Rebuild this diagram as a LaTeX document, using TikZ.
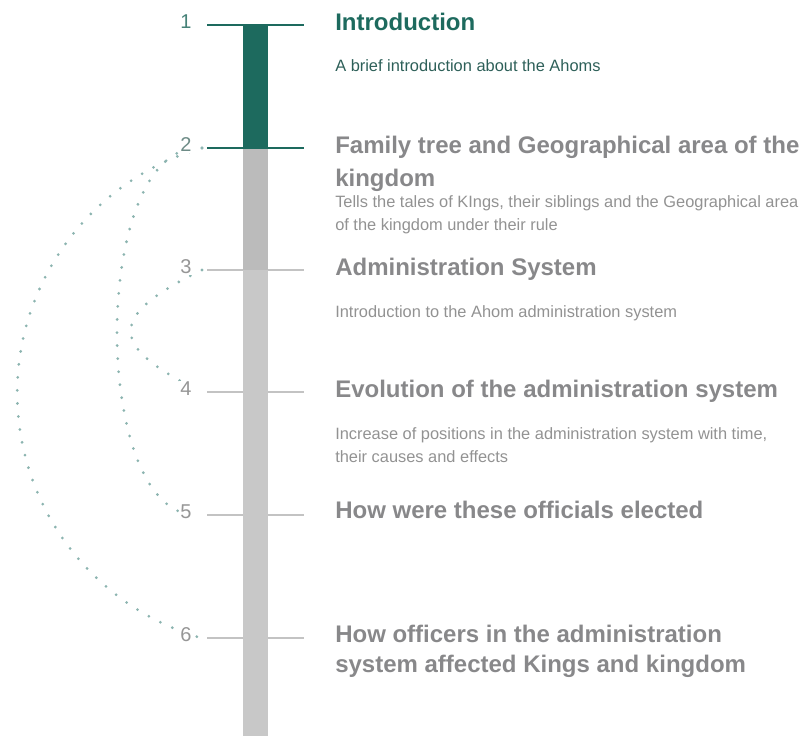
\documentclass[tikz,border=0pt]{standalone}
\usepackage{fontspec}
\setmainfont{Liberation Sans}
\definecolor{tealA}{RGB}{29,106,94}
\definecolor{tealD}{RGB}{45,95,88}
\definecolor{barA}{RGB}{187,187,187}
\definecolor{barB}{RGB}{200,200,200}
\definecolor{tickg}{RGB}{195,195,195}
\definecolor{headg}{RGB}{136,136,138}
\definecolor{descg}{RGB}{146,146,146}
\definecolor{dotc}{RGB}{140,180,176}
\definecolor{numA}{RGB}{70,130,120}
\definecolor{numB}{RGB}{110,140,135}
\definecolor{numg}{RGB}{150,150,150}
\begin{document}
\begin{tikzpicture}[x=0.75pt,y=-0.75pt,
  tickT/.style={draw=tealA,line width=1.5pt},
  tickG/.style={draw=tickg,line width=1pt},
  dotarc/.style={draw=dotc,line width=2.3pt,line cap=round,dash pattern=on 0pt off 9.8pt},
  numlbl/.style={fill=white,inner sep=1pt,font=\fontsize{15}{18}\selectfont},
  headT/.style={anchor=base west,inner sep=0pt,text=tealA,font=\fontsize{18}{22}\selectfont\bfseries},
  headG/.style={anchor=base west,inner sep=0pt,text=headg,font=\fontsize{18}{22}\selectfont\bfseries},
  descT/.style={anchor=base west,inner sep=0pt,text=tealD,font=\fontsize{12.3}{15}\selectfont},
  descG/.style={anchor=base west,inner sep=0pt,text=descg,font=\fontsize{12.3}{15}\selectfont}]
\useasboundingbox (0,0) rectangle (807,736);
% tick coordinates
\coordinate (t1l) at (207,25);  \coordinate (t1r) at (304,25);
\coordinate (t2l) at (207,148); \coordinate (t2r) at (304,148);
\coordinate (t3l) at (207,270); \coordinate (t3r) at (304,270);
\coordinate (t4l) at (207,392); \coordinate (t4r) at (304,392);
\coordinate (t5l) at (207,515); \coordinate (t5r) at (304,515);
\coordinate (t6l) at (207,638); \coordinate (t6r) at (304,638);
% grey ticks (behind bar)
\draw[tickG] (t3l) -- (t3r);
\draw[tickG] (t4l) -- (t4r);
\draw[tickG] (t5l) -- (t5r);
\draw[tickG] (t6l) -- (t6r);
% bar
\fill[barB] (243,270) rectangle (268,736);
\fill[barA] (243,148) rectangle (268,270);
\fill[tealA] (243,25) rectangle (268,148);
% teal ticks
\draw[tickT] (t1l) -- (t1r);
\draw[tickT] (t2l) -- (t2r);
% dotted connectors
\coordinate (d2) at (202,148);
\coordinate (d3) at (202,270);
\coordinate (d4) at (202,392);
\coordinate (d5) at (200,515);
\coordinate (d6) at (202,638);
\draw[dotarc] (d2) arc[start angle=254,end angle=106,radius=255];
\draw[dotarc] (d2) .. controls (89,140) and (89,523) .. (d5);
\draw[dotarc] (d3) .. controls (107,316) and (107,346) .. (d4);
% numbers
\node[numlbl,text=numA] (n1) at (186,22) {1};
\node[numlbl,text=numB] (n2) at (186,145) {2};
\node[numlbl,text=numg] (n3) at (186,267) {3};
\node[numlbl,text=numg] (n4) at (186,389) {4};
\node[numlbl,text=numg] (n5) at (186,512) {5};
\node[numlbl,text=numg] (n6) at (186,635) {6};
% texts
\node[headT] (h1) at (335,30) {Introduction};
\node[descT] (s1) at (335,71) {A brief introduction about the Ahoms};
\node[headG] (h2a) at (335,153) {Family tree and Geographical area of the};
\node[headG] (h2b) at (335,186) {kingdom};
\node[descG] (s2a) at (335,207) {Tells the tales of KIngs, their siblings and the Geographical area};
\node[descG] (s2b) at (335,230) {of the kingdom under their rule};
\node[headG] (h3) at (335,275) {Administration System};
\node[descG] (s3) at (335,317) {Introduction to the Ahom administration system};
\node[headG] (h4) at (335,397) {Evolution of the administration system};
\node[descG] (s4a) at (335,439) {Increase of positions in the administration system with time,};
\node[descG] (s4b) at (335,462) {their causes and effects};
\node[headG] (h5) at (335,518) {How were these officials elected};
\node[headG] (h6a) at (335,642) {How officers in the administration};
\node[headG] (h6b) at (335,672) {system affected Kings and kingdom};
\end{tikzpicture}
\end{document}
